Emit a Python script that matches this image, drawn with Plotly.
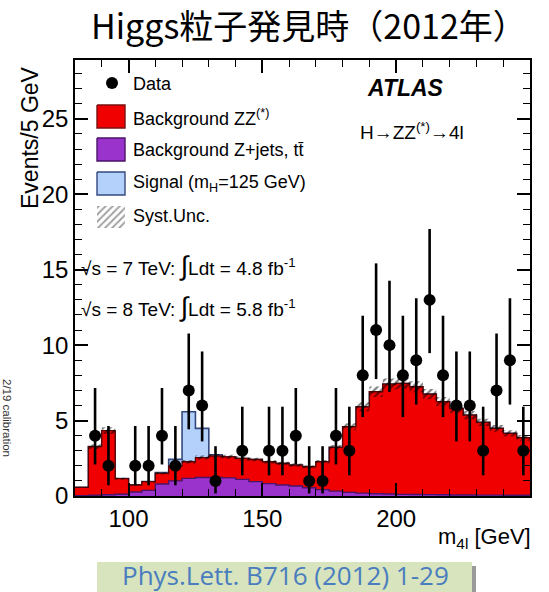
import plotly.graph_objects as go

# ---- histogram binning: 5 GeV bins from 80 to 250 GeV ----
BIN_WIDTH = 5
bin_low = list(range(80, 250, BIN_WIDTH))
bin_edges = bin_low + [250]
bin_centres = [b + BIN_WIDTH / 2 for b in bin_low]

# ---- expected events per bin ----
bkg_zjets = [0.02, 0.05, 0.08, 0.12, 0.27, 0.37, 0.80, 1.00, 1.17, 1.23,
             1.23, 1.20, 1.10, 0.95, 0.82, 0.73, 0.66, 0.55, 0.42, 0.32,
             0.24, 0.19, 0.15, 0.13, 0.11, 0.10, 0.09, 0.08, 0.07, 0.07,
             0.06, 0.06, 0.05, 0.05]
bkg_zz = [0.55, 3.22, 4.25, 1.03, 0.46, 0.58, 0.70, 0.99, 1.10, 1.32,
          1.42, 1.40, 1.39, 1.47, 1.45, 1.43, 1.39, 1.39, 1.85, 2.90,
          4.35, 5.72, 6.76, 7.29, 7.35, 7.14, 6.66, 6.17, 5.73, 5.29,
          4.82, 4.42, 4.10, 3.81]
signal_125 = [0, 0, 0, 0, 0, 0, 0.05, 0.44, 3.31, 1.93,
              0.08, 0, 0, 0, 0, 0, 0, 0, 0, 0,
              0, 0, 0, 0, 0, 0, 0, 0, 0, 0,
              0, 0, 0, 0]
# systematic uncertainty on the total background (absolute, per bin)
bkg_syst = [0.03, 0.16, 0.22, 0.06, 0.04, 0.05, 0.08, 0.10, 0.12, 0.13,
            0.14, 0.13, 0.13, 0.12, 0.12, 0.11, 0.11, 0.10, 0.11, 0.16,
            0.23, 0.30, 0.35, 0.37, 0.37, 0.36, 0.34, 0.31, 0.29, 0.27,
            0.24, 0.22, 0.21, 0.19]

# ---- observed events and their 68% Poisson intervals ----
data_counts = [0, 4, 2, 0, 2, 2, 4, 2, 7, 6,
               1, 0, 3, 0, 3, 3, 4, 1, 1, 4,
               3, 8, 11, 10, 8, 9, 13, 8, 6, 6,
               3, 7, 9, 3]
data_low = [0, 2.09, 0.71, 0, 0.71, 0.71, 2.09, 0.71, 4.42, 3.62,
            0.17, 0, 1.37, 0, 1.37, 1.37, 2.09, 0.17, 0.17, 2.09,
            1.37, 5.23, 7.75, 6.89, 5.23, 6.06, 9.47, 5.23, 3.62, 3.62,
            1.37, 4.42, 6.06, 1.37]
data_high = [0, 7.16, 4.64, 0, 4.64, 4.64, 7.16, 4.64, 10.77, 9.58,
             3.30, 0, 5.92, 0, 5.92, 5.92, 7.16, 3.30, 3.30, 7.16,
             5.92, 11.95, 15.42, 14.27, 11.95, 13.11, 17.70, 11.95, 9.58, 9.58,
             5.92, 10.77, 13.11, 5.92]

x_ticks = [100, 150, 200, 250]

# ---- colours ----
RED = "#f00000"
RED_LINE = "#5a0000"
PURPLE = "#9a33cc"
PURPLE_LINE = "#4a1468"
BLUE = "#b3d1fb"
BLUE_LINE = "#34497e"

FONT = "Liberation Sans, Arial, sans-serif"

# cumulative stacks
stack_zj = list(bkg_zjets)
stack_bkg = [a + b for a, b in zip(bkg_zjets, bkg_zz)]
stack_sig = [a + b for a, b in zip(stack_bkg, signal_125)]
band_lo = [b - s for b, s in zip(stack_bkg, bkg_syst)]
band_hi = [b + s for b, s in zip(stack_bkg, bkg_syst)]


def steps(vals):
    """Values for a step line over the bin edges (last value repeated)."""
    return list(vals) + [vals[-1]]


fig = go.Figure()

# signal on top of background (drawn first, the background covers its lower part)
fig.add_trace(go.Scatter(x=bin_edges, y=steps(stack_sig), mode="lines",
                         line=dict(shape="hv", color=BLUE_LINE, width=1.6),
                         fill="tozeroy", fillcolor=BLUE, showlegend=False,
                         hoverinfo="skip"))
# ZZ(*) background stacked on Z+jets
fig.add_trace(go.Scatter(x=bin_edges, y=steps(stack_bkg), mode="lines",
                         line=dict(shape="hv", color=RED_LINE, width=1.3),
                         fill="tozeroy", fillcolor=RED, showlegend=False,
                         hoverinfo="skip"))
# Z+jets, ttbar background
fig.add_trace(go.Scatter(x=bin_edges, y=steps(stack_zj), mode="lines",
                         line=dict(shape="hv", color=PURPLE_LINE, width=1.4),
                         fill="tozeroy", fillcolor=PURPLE, showlegend=False,
                         hoverinfo="skip"))
# systematic uncertainty band (hatched)
fig.add_trace(go.Scatter(x=bin_edges, y=steps(band_lo), mode="lines",
                         line=dict(shape="hv", width=0), showlegend=False,
                         hoverinfo="skip"))
fig.add_trace(go.Scatter(x=bin_edges, y=steps(band_hi), mode="lines",
                         line=dict(shape="hv", width=0), fill="tonexty",
                         fillcolor="rgba(0,0,0,0)",
                         fillpattern=dict(shape="/", fgcolor="#000000",
                                          bgcolor="rgba(0,0,0,0)",
                                          size=5, solidity=0.45),
                         showlegend=False, hoverinfo="skip"))

# data points with asymmetric error bars (empty bins not drawn)
dx, dy, eplus, eminus = [], [], [], []
for c, n, lo, hi in zip(bin_centres, data_counts, data_low, data_high):
    if n > 0:
        dx.append(c)
        dy.append(n)
        eplus.append(hi - n)
        eminus.append(n - lo)
fig.add_trace(go.Scatter(x=dx, y=dy, mode="markers",
                         marker=dict(color="black", size=12),
                         error_y=dict(type="data", array=eplus, arrayminus=eminus,
                                      symmetric=False, color="black",
                                      thickness=2.6, width=0),
                         showlegend=False))

# ---- legend swatches, drawn on an overlay axis measured in pixels ----
PX_L, PX_R, PX_T, PX_B = 75, 530, 60, 496


def box(x0, y0, x1, y1):
    return [x0, x1, x1, x0, x0], [y0, y0, y1, y1, y0]


legend_boxes = [
    (105, 128, RED, "#7a1010", None),
    (138, 161, PURPLE, "#4a1468", None),
    (172, 195, BLUE, BLUE_LINE, None),
    (206, 228, "rgba(0,0,0,0)", "rgba(0,0,0,0)", "/"),
]
for y0, y1, fc, lc, pat in legend_boxes:
    bx, by = box(97, y0, 125, y1)
    kw = {}
    if pat:
        kw["fillpattern"] = dict(shape=pat, fgcolor="#444444",
                                 bgcolor="rgba(0,0,0,0)", size=5, solidity=0.4)
    fig.add_trace(go.Scatter(x=bx, y=by, mode="lines", fill="toself",
                             fillcolor=fc, line=dict(color=lc, width=1.4),
                             xaxis="x2", yaxis="y2", showlegend=False,
                             hoverinfo="skip", **kw))
fig.add_trace(go.Scatter(x=[112], y=[83], mode="markers",
                         marker=dict(color="black", size=12),
                         xaxis="x2", yaxis="y2", showlegend=False,
                         hoverinfo="skip"))


def px(x):
    return (x - PX_L) / (PX_R - PX_L)


def py(y):
    return (PX_B - y) / (PX_B - PX_T)


annotations = []


def label(text, x, y, size, xanchor="left", yanchor="middle", color="black",
          family=FONT, angle=0):
    annotations.append(dict(text=text, x=px(x), y=py(y), xref="paper",
                            yref="paper", xanchor=xanchor, yanchor=yanchor,
                            showarrow=False, textangle=angle, borderpad=0,
                            font=dict(size=size, color=color, family=family)))


INTEGRAL = '<span style="font-size:27px">∫</span>'

label("Data", 132, 84, 18)
label("Background ZZ<sup>(*)</sup>", 132, 117, 18)
label("Background Z+jets, tt̄", 132, 150, 18)
label("Signal (m<sub>H</sub>=125 GeV)", 132, 183, 18)
label("Syst.Unc.", 132, 216, 18)
label("<b><i>ATLAS</i></b>", 405, 88, 23, xanchor="center")
label("H→ZZ<sup>(*)</sup>→4l", 412, 131, 19, xanchor="center")
label("√s = 7 TeV: " + INTEGRAL + "Ldt = 4.8 fb<sup>-1</sup>", 80, 266, 19)
label("√s = 8 TeV: " + INTEGRAL + "Ldt = 5.8 fb<sup>-1</sup>", 80, 307, 19)

# axis titles
label("Events/5 GeV", 30, 138, 23, xanchor="center", angle=-90)
label("m<sub>4l</sub> [GeV]", 532, 538, 22, xanchor="right")

# page title and side note
label("Higgs粒子発見時（2012年）", 309, 24, 34, xanchor="center",
      family="Noto Sans CJK JP, sans-serif")
label("2/19 calibration", 7, 418, 11.5, xanchor="center", color="#333333",
      angle=90)

# reference box at the bottom
shapes = [
    dict(type="rect", xref="paper", yref="paper", x0=px(101), x1=px(476),
         y0=py(596), y1=py(566), fillcolor="#9a9a9a", line=dict(width=0),
         layer="above"),
    dict(type="rect", xref="paper", yref="paper", x0=px(97), x1=px(472),
         y0=py(596), y1=py(562), fillcolor="#d7e4bd", line=dict(width=0),
         layer="above"),
]
label("Phys.Lett. B716 (2012) 1-29", 285, 575, 26, xanchor="center",
      color="#4a7dbf", family="Open Sans, Noto Sans, sans-serif")

axis_common = dict(showline=True, linecolor="black", linewidth=1.5,
                   mirror="ticks", ticks="inside", tickwidth=1.5,
                   tickcolor="black", showgrid=False, zeroline=False,
                   tickfont=dict(family=FONT, size=24, color="black"))

fig.update_layout(
    width=549, height=592,
    margin=dict(l=PX_L, r=549 - PX_R, t=PX_T, b=592 - PX_B),
    paper_bgcolor="white", plot_bgcolor="white",
    showlegend=False,
    xaxis=dict(range=[80, 250], tickmode="array", tickvals=x_ticks,
               ticklen=13,
               minor=dict(dtick=10, tick0=80, ticks="inside", ticklen=7,
                          tickwidth=1.2, tickcolor="black"),
               **axis_common),
    yaxis=dict(range=[0, 28.9], dtick=5, tick0=0, ticklen=13,
               minor=dict(dtick=1, ticks="inside", ticklen=7,
                          tickwidth=1.2, tickcolor="black"),
               **axis_common),
    xaxis2=dict(range=[PX_L, PX_R], overlaying="x", anchor="y2",
                visible=False),
    yaxis2=dict(range=[PX_B, PX_T], overlaying="y", anchor="x2",
                visible=False),
    annotations=annotations,
    shapes=shapes,
)

fig.write_html("out.html")
